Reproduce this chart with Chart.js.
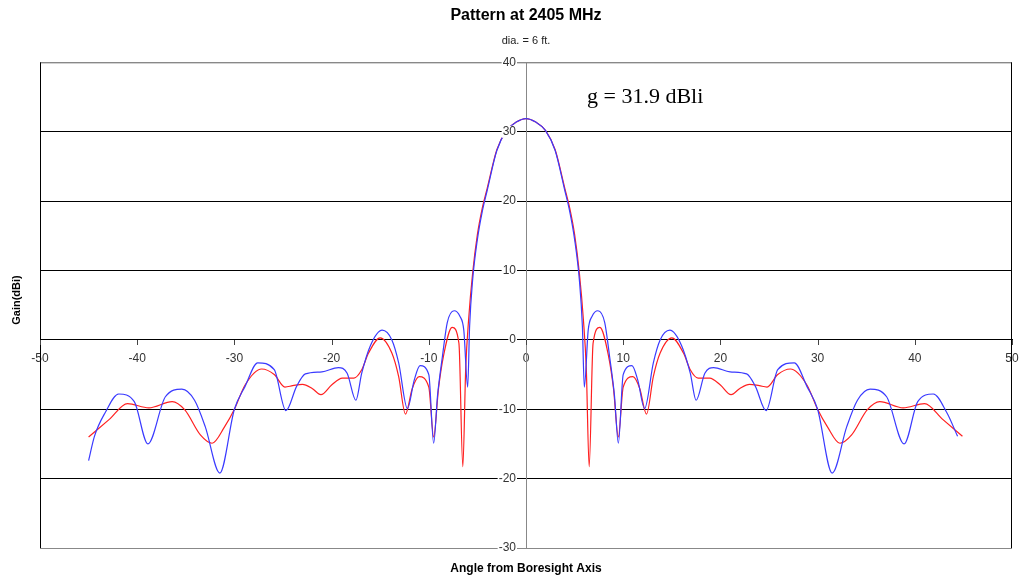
<!DOCTYPE html>
<html>
<head>
<meta charset="utf-8">
<script src="https://cdn.jsdelivr.net/npm/chart.js@4.4.1/dist/chart.umd.min.js"></script>
<style>
  html, body { margin: 0; padding: 0; background: #fff; }
  #wrap { width: 1021px; height: 582px; }
</style>
</head>
<body>
<div id="wrap"><canvas id="chart"></canvas></div>
<script>
// Measured pattern (blue) and model pattern (red), angle in degrees, gain in dBi
var blueAngles = [-45, -44.4, -43.3, -41.9, -40.3, -38.9, -37.1, -35.4, -34.1, -33, -31.5, -30, -28.9, -27.6, -25.9,
  -24.7, -23.6, -22.7, -21, -19.3, -18.4, -17.5, -16.9, -16, -14.8, -13.8, -13.1, -12.2, -11.5, -10.9, -10,
  -9.5, -9.1, -8.6, -8.1, -7.4, -6.8, -6.4, -6, -5.8, -5.5, -5, -4.5, -4, -3, -2, -1, 0,
  1, 2, 3, 4, 4.5, 5, 5.5, 5.8, 6, 6.4, 6.8, 7.4, 8.1, 8.6, 9.1, 9.5,
  10, 10.9, 11.5, 12.2, 13.1, 13.8, 14.8, 16, 16.9, 17.5, 18.4, 19.3, 21, 22.7, 23.6, 24.7,
  25.9, 27.6, 28.9, 30, 31.5, 33, 34.1, 35.4, 37.1, 38.9, 40.3, 41.9, 43.3, 44.4];
var blueGain = [-17.4, -13.9, -10.5, -7.8, -8.9, -15.0, -8.2, -7.1, -8.7, -12.5, -19.2, -10.0, -6.7, -3.3, -4.3,
  -10.2, -6.7, -4.9, -4.6, -4.0, -4.8, -8.7, -4.8, -0.8, 1.4, 0.0, -3.3, -9.9, -5.8, -3.7, -5.0,
  -14.9, -8.0, -2.4, 2.5, 4.2, 3.4, 1.4, -6.8, 2.0, 8.5, 14.5, 18.5, 21.5, 27.3, 30.2, 31.4, 31.9,
  31.4, 30.2, 27.3, 21.5, 18.5, 14.5, 8.5, 2.0, -6.8, 1.4, 3.4, 4.2, 2.5, -2.4, -8.0, -14.9,
  -5.0, -3.7, -5.8, -9.9, -3.3, 0.0, 1.4, -0.8, -4.8, -8.7, -4.8, -4.0, -4.6, -4.9, -6.7, -10.2,
  -4.3, -3.3, -6.7, -10.0, -19.2, -12.5, -8.7, -7.1, -8.2, -15.0, -8.9, -7.8, -10.5, -13.9];

var redAngles = [-45, -42.9, -41, -38.8, -36.4, -35.1, -33.5, -32.3, -31, -30, -28.9, -27.2, -25.9, -24.8, -24,
  -23, -22, -21.1, -20, -18.9, -17.7, -16.9, -16.2, -15, -13.8, -13.1, -12.4, -11.7, -11, -10, -9.5,
  -9, -8.5, -7.6, -6.9, -6.5, -6.2, -5.9, -5.5, -5, -4.5, -4, -3, -2, -1, 0,
  1, 2, 3, 4, 4.5, 5, 5.5, 5.9, 6.2, 6.5, 6.9, 7.6, 8.5, 9, 9.5,
  10, 11, 11.7, 12.4, 13.1, 13.8, 15, 16.2, 16.9, 17.7, 18.9, 20, 21.1, 22, 23, 24,
  24.8, 25.9, 27.2, 28.9, 30, 31, 32.3, 33.5, 35.1, 36.4, 38.8, 41, 42.9, 44.9];
var redGain = [-14.0, -11.5, -9.2, -9.8, -8.9, -10.1, -13.7, -14.9, -12.5, -10.0, -6.5, -4.2, -5.0, -6.8, -6.6,
  -6.4, -7.0, -7.9, -6.5, -5.5, -5.5, -4.3, -1.9, 0.3, -1.9, -5.3, -10.7, -7.0, -5.3, -6.8, -14.0,
  -7.0, -2.4, 1.8, -0.5, -18.3, -4.0, 3.0, 9.5, 15.2, 19.0, 21.8, 27.4, 30.2, 31.4, 31.9,
  31.4, 30.2, 27.4, 21.8, 19.0, 15.2, 9.5, 3.0, -4.0, -18.3, -0.5, 1.8, -2.4, -7.0, -14.0,
  -6.8, -5.3, -7.0, -10.7, -5.3, -1.9, 0.3, -1.9, -4.3, -5.5, -5.5, -6.5, -7.9, -7.0, -6.4, -6.6,
  -6.8, -5.0, -4.2, -6.5, -10.0, -12.5, -14.9, -13.7, -10.1, -8.9, -9.8, -9.2, -11.5, -13.9];

var xTicks = [-50, -40, -30, -20, -10, 0, 10, 20, 30, 40, 50];
var yTicks = [-30, -20, -10, 0, 10, 20, 30, 40];

function toPoints(xs, ys) {
  return xs.map(function (x, i) { return { x: x, y: ys[i] }; });
}

// frame, short x tick marks, y tick labels, axis titles and gain note
var extras = {
  id: 'extras',
  beforeDatasetsDraw: function (chart) {
    var a = chart.chartArea, c = chart.ctx;
    var xs = chart.scales.x, ys = chart.scales.y;
    c.save();
    c.lineWidth = 1;
    c.strokeStyle = '#888';
    c.beginPath();
    c.moveTo(a.left, a.top + 0.5); c.lineTo(a.right, a.top + 0.5);
    c.moveTo(a.left, a.bottom + 0.5); c.lineTo(a.right, a.bottom + 0.5);
    c.stroke();
    c.strokeStyle = '#000';
    c.beginPath();
    c.moveTo(a.left + 0.5, a.top); c.lineTo(a.left + 0.5, a.bottom);
    c.moveTo(a.right - 0.5, a.top); c.lineTo(a.right - 0.5, a.bottom);
    c.stroke();
    var y0 = Math.round(ys.getPixelForValue(0));
    c.strokeStyle = '#444';
    c.beginPath();
    xTicks.forEach(function (v) {
      var px = Math.round(xs.getPixelForValue(v)) + 0.5;
      c.moveTo(px, y0); c.lineTo(px, y0 + 5);
    });
    c.stroke();
    c.restore();
  },
  afterDraw: function (chart) {
    var a = chart.chartArea, c = chart.ctx;
    var xs = chart.scales.x, ys = chart.scales.y;
    var axisX = xs.getPixelForValue(0);

    // y tick labels left of the centre axis, on a white backdrop
    c.save();
    c.font = '12px "Liberation Sans", Arial, sans-serif';
    c.textAlign = 'right';
    c.textBaseline = 'middle';
    yTicks.forEach(function (v) {
      var py = ys.getPixelForValue(v);
      var label = String(v);
      var w = c.measureText(label).width;
      c.fillStyle = '#fff';
      c.fillRect(axisX - 10 - w - 1, py - 6, w + 2, 12);
      c.fillStyle = '#333';
      c.fillText(label, axisX - 10, py);
    });
    c.restore();

    c.save();
    c.fillStyle = '#000';
    c.textAlign = 'center';
    c.textBaseline = 'middle';
    c.font = 'bold 12px "Liberation Sans", Arial, sans-serif';
    c.fillText('Angle from Boresight Axis', (a.left + a.right) / 2, 569);
    c.translate(17, 300);
    c.rotate(-Math.PI / 2);
    c.font = 'bold 11px "Liberation Sans", Arial, sans-serif';
    c.fillText('Gain(dBi)', 0, 0);
    c.restore();

    c.save();
    c.fillStyle = '#000';
    c.font = '22px "Liberation Serif", "Times New Roman", serif';
    c.textAlign = 'left';
    c.textBaseline = 'alphabetic';
    c.fillText('g = 31.9 dBli', 587, 103);
    c.restore();
  }
};

new Chart(document.getElementById('chart'), {
  type: 'scatter',
  data: {
    datasets: [{
      label: 'Measured',
      data: toPoints(blueAngles, blueGain),
      showLine: true,
      borderColor: '#3a3aff',
      borderWidth: 1.2,
      pointRadius: 0,
      cubicInterpolationMode: 'monotone'
    }, {
      label: 'Model',
      data: toPoints(redAngles, redGain),
      showLine: true,
      borderColor: '#ff2020',
      borderWidth: 1.2,
      pointRadius: 0,
      cubicInterpolationMode: 'monotone'
    }]
  },
  options: {
    responsive: true,
    maintainAspectRatio: false,
    animation: false,
    layout: { padding: { left: 40, right: 9, bottom: 34, top: 0 } },
    plugins: {
      legend: { display: false },
      tooltip: { enabled: false },
      title: {
        display: true,
        text: 'Pattern at 2405 MHz',
        color: '#000',
        font: { family: '"Liberation Sans", Arial, sans-serif', size: 16, weight: 'bold' },
        padding: { top: 6, bottom: 4 }
      },
      subtitle: {
        display: true,
        text: 'dia. = 6 ft.',
        color: '#222',
        font: { family: '"Liberation Sans", Arial, sans-serif', size: 11 },
        padding: { top: 5, bottom: 15 }
      }
    },
    scales: {
      x: {
        type: 'linear',
        position: { y: 0 },
        min: -50,
        max: 50,
        afterBuildTicks: function (axis) {
          axis.ticks = xTicks.map(function (v) { return { value: v }; });
        },
        grid: { drawOnChartArea: false, drawTicks: true, tickLength: 10, tickColor: 'rgba(0,0,0,0)' },
        border: { color: '#000', width: 1 },
        ticks: {
          color: '#333',
          padding: 2,
          font: { family: '"Liberation Sans", Arial, sans-serif', size: 12 },
          maxRotation: 0,
          autoSkip: false
        }
      },
      y: {
        type: 'linear',
        position: { x: 0 },
        min: -30,
        max: 40,
        afterBuildTicks: function (axis) {
          axis.ticks = yTicks.map(function (v) { return { value: v }; });
        },
        grid: {
          color: function (ctx) {
            var v = ctx.tick && ctx.tick.value;
            return (v === 40 || v === -30) ? '#888' : '#000';
          },
          lineWidth: 1,
          tickLength: 4
        },
        border: { color: '#888', width: 1 },
        ticks: { display: false }
      }
    }
  },
  plugins: [extras]
});
</script>
</body>
</html>
